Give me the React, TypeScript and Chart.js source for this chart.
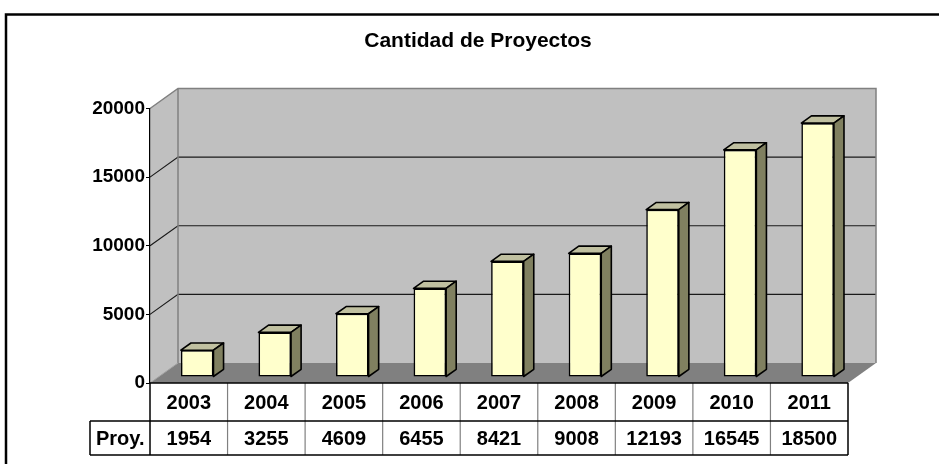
import React, { useEffect, useRef } from "react";
import { Chart, registerables } from "chart.js";

Chart.register(...registerables);

const years = ["2003", "2004", "2005", "2006", "2007", "2008", "2009", "2010", "2011"];
const proyectos = [1954, 3255, 4609, 6455, 8421, 9008, 12193, 16545, 18500];
const yTickValues = [0, 5000, 10000, 15000, 20000];
const chartTitle = "Cantidad de Proyectos";
const rowLabel = "Proy.";

const FONT = "'Liberation Sans', Arial, sans-serif";
const DX = 28;
const DY = -20;
const BAR_POS = 0.3;
const BAR_DEPTH = 0.36;

const threeDPlugin = {
  id: "threeD",
  beforeDraw(chart: any) {
    const { ctx, chartArea: ca, scales } = chart;
    const y = scales.y;
    ctx.save();
    ctx.fillStyle = "#ffffff";
    ctx.fillRect(0, 0, chart.width, chart.height);
    // outer frame
    ctx.strokeStyle = "#000000";
    ctx.lineWidth = 2.5;
    ctx.beginPath();
    ctx.moveTo(6, chart.height + 5);
    ctx.lineTo(6, 14.5);
    ctx.lineTo(chart.width + 5, 14.5);
    ctx.stroke();
    // title
    ctx.fillStyle = "#000000";
    ctx.font = `bold 21px ${FONT}`;
    ctx.textAlign = "center";
    ctx.textBaseline = "middle";
    ctx.fillText(chartTitle, 478, 41);

    const L = ca.left, R = ca.right, T = ca.top, B = ca.bottom;
    // back wall
    ctx.fillStyle = "#c0c0c0";
    ctx.fillRect(L + DX, T + DY, R - L, B - T);
    // side wall
    ctx.beginPath();
    ctx.moveTo(L, T);
    ctx.lineTo(L + DX, T + DY);
    ctx.lineTo(L + DX, B + DY);
    ctx.lineTo(L, B);
    ctx.closePath();
    ctx.fill();
    // floor
    ctx.fillStyle = "#808080";
    ctx.beginPath();
    ctx.moveTo(L, B);
    ctx.lineTo(R, B);
    ctx.lineTo(R + DX, B + DY);
    ctx.lineTo(L + DX, B + DY);
    ctx.closePath();
    ctx.fill();
    // grid lines
    ctx.strokeStyle = "#1a1a1a";
    ctx.lineWidth = 1.2;
    yTickValues.forEach((v) => {
      if (v === 0 || v === 20000) return;
      const py = y.getPixelForValue(v);
      ctx.beginPath();
      ctx.moveTo(L, py);
      ctx.lineTo(L + DX, py + DY);
      ctx.lineTo(R + DX, py + DY);
      ctx.stroke();
    });
    // wall edges
    ctx.strokeStyle = "#808080";
    ctx.lineWidth = 1.5;
    ctx.beginPath();
    ctx.moveTo(L, T);
    ctx.lineTo(L + DX, T + DY);
    ctx.lineTo(R + DX, T + DY);
    ctx.lineTo(R + DX, B + DY);
    ctx.moveTo(L + DX, T + DY);
    ctx.lineTo(L + DX, B + DY);
    ctx.stroke();
    // floor front-left diagonal
    ctx.strokeStyle = "#a0a0a0";
    ctx.lineWidth = 1;
    ctx.beginPath();
    ctx.moveTo(L, B);
    ctx.lineTo(L + DX, B + DY);
    ctx.stroke();
    ctx.restore();
  },
  beforeDatasetsDraw(chart: any) {
    const { ctx } = chart;
    ctx.save();
    ctx.translate(DX * BAR_POS, DY * BAR_POS);
  },
  afterDatasetsDraw(chart: any) {
    const { ctx } = chart;
    const meta = chart.getDatasetMeta(0);
    const bdx = DX * BAR_DEPTH;
    const bdy = DY * BAR_DEPTH;
    ctx.lineWidth = 1.6;
    ctx.strokeStyle = "#000000";
    ctx.lineJoin = "round";
    meta.data.forEach((el: any) => {
      const { x, y, base, width } = el.getProps(["x", "y", "base", "width"], true);
      const l = x - width / 2;
      const r = x + width / 2;
      // top face
      ctx.fillStyle = "#c0c0a0";
      ctx.beginPath();
      ctx.moveTo(l, y);
      ctx.lineTo(l + bdx, y + bdy);
      ctx.lineTo(r + bdx, y + bdy);
      ctx.lineTo(r, y);
      ctx.closePath();
      ctx.fill();
      ctx.stroke();
      // side face
      ctx.fillStyle = "#808060";
      ctx.beginPath();
      ctx.moveTo(r, y);
      ctx.lineTo(r + bdx, y + bdy);
      ctx.lineTo(r + bdx, base + bdy);
      ctx.lineTo(r, base);
      ctx.closePath();
      ctx.fill();
      ctx.stroke();
    });
    ctx.restore();
  },
  afterDraw(chart: any) {
    const { ctx, chartArea: ca, scales } = chart;
    const xs = scales.x;
    const L = ca.left, R = ca.right, B = ca.bottom;
    const row1 = 421;
    const row2 = 455;
    const labelLeft = 90;
    const colW = (R - L) / years.length;
    ctx.save();
    // inner verticals
    ctx.strokeStyle = "#808080";
    ctx.lineWidth = 1.2;
    for (let i = 1; i < years.length; i++) {
      const px = L + i * colW;
      ctx.beginPath();
      ctx.moveTo(px, B);
      ctx.lineTo(px, row2);
      ctx.stroke();
    }
    ctx.strokeStyle = "#000000";
    ctx.lineWidth = 1.5;
    ctx.beginPath();
    ctx.moveTo(L, B);
    ctx.lineTo(R, B);
    ctx.moveTo(labelLeft, row1);
    ctx.lineTo(R, row1);
    ctx.moveTo(labelLeft, row2);
    ctx.lineTo(R, row2);
    ctx.moveTo(L, B);
    ctx.lineTo(L, row2);
    ctx.moveTo(R, B);
    ctx.lineTo(R, row2);
    ctx.moveTo(labelLeft, row1);
    ctx.lineTo(labelLeft, row2);
    ctx.stroke();

    ctx.fillStyle = "#000000";
    ctx.font = `bold 20px ${FONT}`;
    ctx.textBaseline = "middle";
    ctx.textAlign = "center";
    years.forEach((yr, i) => {
      const cx = xs.getPixelForValue(i);
      ctx.fillText(yr, cx, (B + row1) / 2 + 1);
      ctx.fillText(String(proyectos[i]), cx, (row1 + row2) / 2 + 1);
    });
    ctx.textAlign = "left";
    ctx.fillText(rowLabel, 96, (row1 + row2) / 2 + 1);
    ctx.restore();
  },
};

export default function App() {
  const canvasRef = useRef<HTMLCanvasElement | null>(null);

  useEffect(() => {
    document.body.style.margin = "0";
    const canvas = canvasRef.current;
    if (!canvas) return;
    const chart = new Chart(canvas, {
      type: "bar",
      data: {
        labels: years,
        datasets: [
          {
            label: rowLabel,
            data: proyectos,
            backgroundColor: "#ffffcc",
            borderColor: "#000000",
            borderWidth: 1.6,
            borderSkipped: false,
            categoryPercentage: 1,
            barPercentage: 0.42,
            clip: false as any,
          },
        ],
      },
      options: {
        responsive: false,
        animation: false,
        devicePixelRatio: 1,
        layout: { padding: { top: 108.5, bottom: 81, right: 91, left: 0 } },
        plugins: {
          legend: { display: false },
          title: { display: false },
          tooltip: { enabled: false },
        },
        scales: {
          x: { display: false },
          y: {
            min: 0,
            max: 20000,
            afterFit: (scale: any) => {
              scale.width = 150;
            },
            afterBuildTicks: (scale: any) => {
              scale.ticks = yTickValues.map((v) => ({ value: v }));
            },
            ticks: {
              color: "#000000",
              padding: 1,
              font: { family: FONT, size: 19, weight: "bold" },
              callback: (value: any) => String(value),
            },
            grid: {
              display: true,
              drawOnChartArea: false,
              drawTicks: true,
              tickLength: 4,
              color: "#000000",
            },
            border: { display: true, color: "#000000", width: 1.2 },
          },
        },
      },
      plugins: [threeDPlugin],
    });
    return () => chart.destroy();
  }, []);

  return (
    <div style={{ width: 939, height: 464 }}>
      <canvas ref={canvasRef} width={939} height={464} />
    </div>
  );
}
